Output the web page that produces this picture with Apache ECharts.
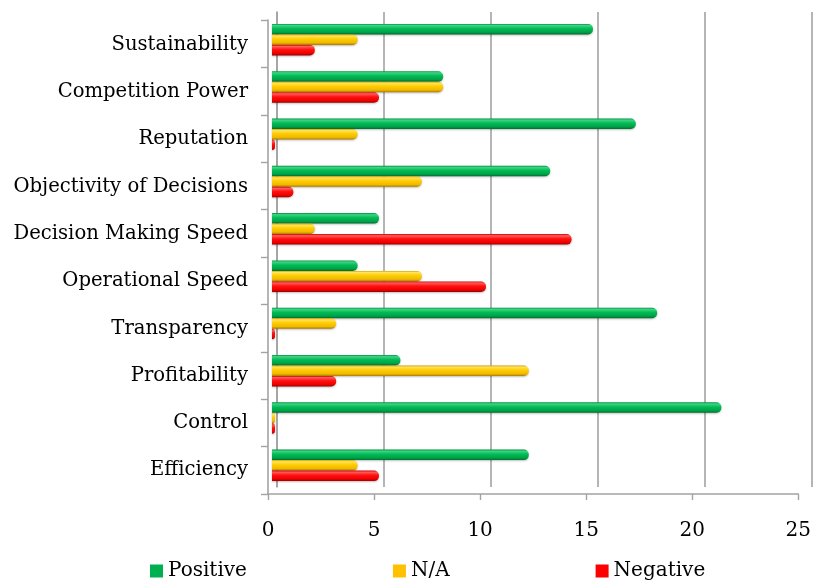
<!DOCTYPE html>
<html>
<head>
<meta charset="utf-8">
<script src="https://cdn.jsdelivr.net/npm/echarts@6/dist/echarts.min.js"></script>
<style>
  html, body { margin: 0; padding: 0; background: #ffffff; }
  #chart { width: 814px; height: 580px; }
</style>
</head>
<body>
<div id="chart"></div>
<script>
// Survey answers per criterion, listed top to bottom
const categories = [
  'Sustainability',
  'Competition Power',
  'Reputation',
  'Objectivity of Decisions',
  'Decision Making Speed',
  'Operational Speed',
  'Transparency',
  'Profitability',
  'Control',
  'Efficiency'
];
const positive = [15, 8, 17, 13, 5, 4, 18, 6, 21, 12];
const notApplicable = [4, 8, 4, 7, 2, 7, 3, 12, 0, 4];
const negative = [2, 5, 0, 1, 14, 10, 0, 3, 0, 5];

const seriesNames = ['Positive', 'N/A', 'Negative'];
const axisMax = 25;
const axisStep = 5;

const FONT = 'DejaVu Serif';
const GRID_GREY = '#a3a3a3';

// Cylinder-like shading for each bar colour
function tube(dark, light, main, mid, shade) {
  return new echarts.graphic.LinearGradient(0, 0, 0, 1, [
    { offset: 0, color: dark },
    { offset: 0.15, color: light },
    { offset: 0.45, color: main },
    { offset: 0.8, color: mid },
    { offset: 1, color: shade }
  ]);
}

const palette = [
  { flat: '#00B050', fill: tube('#00913f', '#3fd482', '#00bb55', '#00a148', '#006a2c') },
  { flat: '#FFC000', fill: tube('#d9a200', '#ffe35a', '#ffcc00', '#f0b800', '#a87c00') },
  { flat: '#FF0000', fill: tube('#d00000', '#ff5c5c', '#ff1010', '#ee0000', '#9a0000') }
];

const values = [positive, notApplicable, negative];

const chart = echarts.init(document.getElementById('chart'), null, { renderer: 'canvas' });

const barSeries = values.map((data, i) => ({
  name: seriesNames[i],
  type: 'bar',
  xAxisIndex: 0,
  yAxisIndex: 0,
  data: data,
  barWidth: 10.5,
  barGap: '0%',
  barMinHeight: 3,
  itemStyle: {
    color: palette[i].fill,
    borderRadius: [0, 5, 5, 0],
    shadowColor: 'rgba(0,0,0,0.25)',
    shadowBlur: 2,
    shadowOffsetY: 1
  },
  emphasis: { disabled: true }
}));

chart.setOption({
  animation: false,
  backgroundColor: '#ffffff',
  legend: {
    data: seriesNames.map((n, i) => ({ name: n, itemStyle: { color: palette[i].flat } })),
    left: 145,
    top: 556,
    itemGap: 146,
    itemWidth: 13,
    itemHeight: 13,
    icon: 'rect',
    textStyle: { fontFamily: FONT, fontSize: 20, color: '#000000' }
  },
  grid: [
    // plotting plane for the bars
    { left: 272, top: 16, width: 535, height: 473 },
    // back wall carrying the gridlines
    { left: 277, top: 12, width: 535, height: 475 },
    // front edge carrying the axis lines, ticks and value labels
    { left: 268, top: 20, width: 532, height: 474 }
  ],
  xAxis: [
    {
      gridIndex: 0, type: 'value', min: 0, max: axisMax, interval: axisStep,
      axisLine: { show: false }, axisTick: { show: false },
      axisLabel: { show: false }, splitLine: { show: false }
    },
    {
      gridIndex: 1, type: 'value', min: 0, max: axisMax, interval: axisStep,
      axisLine: { show: false }, axisTick: { show: false },
      axisLabel: { show: false },
      splitLine: { show: true, lineStyle: { color: GRID_GREY, width: 1.6 } }
    },
    {
      gridIndex: 2, type: 'value', min: 0, max: axisMax, interval: axisStep,
      axisLine: { show: true, lineStyle: { color: GRID_GREY, width: 1.6 } },
      axisTick: { show: true, length: 6, lineStyle: { color: GRID_GREY, width: 1.4 } },
      axisLabel: { show: true, margin: 27, fontFamily: FONT, fontSize: 20, color: '#000000' },
      splitLine: { show: false }
    }
  ],
  yAxis: [
    {
      gridIndex: 0, type: 'category', data: categories, inverse: true,
      axisLine: { show: false }, axisTick: { show: false },
      axisLabel: {
        margin: 24,
        formatter: (name) => '{c|' + name + '}',
        rich: {
          c: {
            fontFamily: FONT, fontSize: 19.6, color: '#000000',
            padding: [10, 0, 0, 0]
          }
        }
      },
      splitLine: { show: false }
    },
    {
      gridIndex: 1, type: 'value', min: 0, max: 1,
      axisLine: { show: true, lineStyle: { color: GRID_GREY, width: 1.6 } },
      axisTick: { show: false }, axisLabel: { show: false }, splitLine: { show: false }
    },
    {
      gridIndex: 2, type: 'category', data: categories, inverse: true,
      axisLine: { show: true, lineStyle: { color: GRID_GREY, width: 1.6 } },
      axisTick: { show: true, length: 7, lineStyle: { color: GRID_GREY, width: 1.4 } },
      axisLabel: { show: false }, splitLine: { show: false }
    }
  ],
  series: barSeries
});
</script>
</body>
</html>
